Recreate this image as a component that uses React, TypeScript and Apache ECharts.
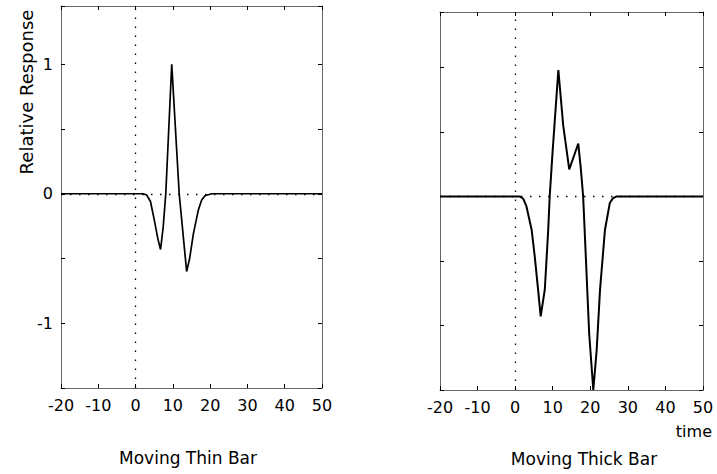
import React, { useEffect, useRef } from "react";
import * as echarts from "echarts";

// Moving thin bar response
const thinTime = [-20, 0, 2, 3, 4, 5, 6, 6.7, 7.4, 8.1, 9.7, 11.0, 11.7, 13.7, 14.5, 15.5, 16.8, 17.7, 18.6, 20.4, 50];
const thinResp = [0, 0, 0, -0.01, -0.06, -0.2, -0.35, -0.43, -0.26, 0, 1.0, 0.35, 0, -0.6, -0.5, -0.31, -0.13, -0.05, -0.015, 0, 0];

// Moving thick bar response
const thickTime = [-20, 0, 1.3, 2.2, 3.0, 4.4, 5.2, 6.1, 6.8, 7.9, 8.8, 9.2, 9.95, 11.5, 12.8, 14.4, 15.6, 16.8, 17.5, 18.1, 18.8, 19.7, 20.8, 21.7, 22.6, 23.9, 25.2, 26.0, 27.0, 50];
const thickResp = [0, 0, 0, -0.02, -0.075, -0.26, -0.46, -0.72, -0.93, -0.72, -0.26, 0, 0.34, 0.98, 0.55, 0.21, 0.31, 0.41, 0.21, 0, -0.46, -1.06, -1.5, -1.19, -0.72, -0.26, -0.05, -0.015, 0, 0];

const xTickMin = -20;
const xTickMax = 50;
const xTickStep = 10;
const yTickStep = 0.5;

const panelTitles = ["Moving Thin Bar", "Moving Thick Bar"];
const yAxisTitle = "Relative Response";
const xAxisTitle = "time";

const FONT = "DejaVu Sans";

export default function App() {
  const ref = useRef<HTMLDivElement>(null);

  useEffect(() => {
    if (!ref.current) return;
    const chart = echarts.init(ref.current, null, { renderer: "svg" });

    const frameLine = { show: true, lineStyle: { color: "#666", width: 1 } };
    const tick = { show: true, inside: true, length: 4, lineStyle: { color: "#000", width: 1 } };

    const makeX = (gridIndex: number, position: "bottom" | "top") => ({
      type: "value",
      gridIndex,
      position,
      min: xTickMin,
      max: xTickMax,
      interval: xTickStep,
      axisLine: { ...frameLine, onZero: false },
      axisTick: tick,
      splitLine: { show: false },
      axisLabel: {
        show: position === "bottom",
        color: "#000",
        fontSize: 16,
        fontFamily: FONT,
        margin: 9,
        showMinLabel: true,
        showMaxLabel: true,
      },
    });

    const makeY = (gridIndex: number, position: "left" | "right", max: number, labels: boolean) => ({
      type: "value",
      gridIndex,
      position,
      min: -1.5,
      max,
      interval: yTickStep,
      axisLine: { ...frameLine, onZero: false },
      axisTick: tick,
      splitLine: { show: false },
      axisLabel: {
        show: labels,
        color: "#000",
        fontSize: 16,
        fontFamily: FONT,
        margin: 8,
        formatter: (v: number) =>
          Math.abs(v - Math.round(v)) < 1e-9 && v > -1.4 ? String(Math.round(v)) : "",
      },
    });

    const markLine = {
      silent: true,
      symbol: ["none", "none"],
      label: { show: false },
      lineStyle: { color: "#000", type: [1.5, 7.5], width: 1.3 },
      data: [{ xAxis: 0 }, { yAxis: 0 }],
    };

    const option: any = {
      animation: false,
      backgroundColor: "#fff",
      grid: [
        { left: 61, top: 6, width: 261, height: 382 },
        { left: 440, top: 12, width: 263, height: 378 },
      ],
      xAxis: [makeX(0, "bottom"), makeX(0, "top"), makeX(1, "bottom"), makeX(1, "top")],
      yAxis: [
        makeY(0, "left", 1.45, true),
        makeY(0, "right", 1.45, false),
        makeY(1, "left", 1.43, false),
        makeY(1, "right", 1.43, false),
      ],
      series: [
        {
          type: "line",
          xAxisIndex: 0,
          yAxisIndex: 0,
          data: thinTime.map((t, i) => [t, thinResp[i]]),
          showSymbol: false,
          symbol: "none",
          lineStyle: { color: "#000", width: 1.7 },
          markLine,
          z: 3,
        },
        {
          type: "line",
          xAxisIndex: 2,
          yAxisIndex: 2,
          data: thickTime.map((t, i) => [t, thickResp[i]]),
          showSymbol: false,
          symbol: "none",
          lineStyle: { color: "#000", width: 2 },
          markLine,
          z: 3,
        },
      ],
      graphic: [
        {
          type: "text",
          x: 26,
          y: 92,
          rotation: Math.PI / 2,
          style: {
            text: yAxisTitle,
            fontSize: 18,
            fontFamily: FONT,
            fill: "#000",
            align: "center",
            verticalAlign: "middle",
          },
        },
        {
          type: "text",
          x: 188,
          y: 458,
          style: {
            text: panelTitles[0],
            fontSize: 17,
            fontFamily: FONT,
            fill: "#000",
            align: "center",
            verticalAlign: "middle",
          },
        },
        {
          type: "text",
          x: 584,
          y: 459,
          style: {
            text: panelTitles[1],
            fontSize: 17,
            fontFamily: FONT,
            fill: "#000",
            align: "center",
            verticalAlign: "middle",
          },
        },
        {
          type: "text",
          x: 712,
          y: 431,
          style: {
            text: xAxisTitle,
            fontSize: 16,
            fontFamily: FONT,
            fill: "#000",
            align: "right",
            verticalAlign: "middle",
          },
        },
      ],
    };

    chart.setOption(option);
    return () => chart.dispose();
  }, []);

  return (
    <div
      ref={ref}
      style={{ position: "fixed", left: 0, top: 0, width: 717, height: 474, background: "#fff" }}
    />
  );
}
